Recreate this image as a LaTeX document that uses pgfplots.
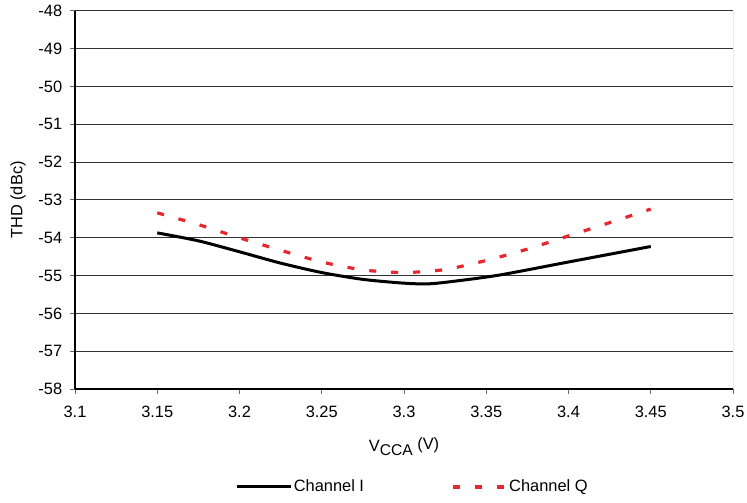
\documentclass[border=0pt]{standalone}
\usepackage{pgfplots}
\pgfplotsset{compat=1.18}
\usepackage{fontspec}
\setmainfont{Liberation Sans}
\definecolor{qred}{RGB}{232,38,46}
\begin{document}
\fontsize{8.2pt}{9.5pt}\selectfont
\begin{tikzpicture}
\useasboundingbox (-37.5pt,-56.5pt) rectangle (336pt,194.5pt);
\begin{axis}[
  scale only axis,
  width=329pt, height=189pt,
  xmin=3.1, xmax=3.5, ymin=-58, ymax=-48,
  xtick={3.1,3.15,3.2,3.25,3.3,3.35,3.4,3.45,3.5},
  xticklabels={3.1,3.15,3.2,3.25,3.3,3.35,3.4,3.45,3.5},
  ytick={-58,-57,-56,-55,-54,-53,-52,-51,-50,-49,-48},
  yticklabels={-58,-57,-56,-55,-54,-53,-52,-51,-50,-49,-48},
  axis x line*=bottom, axis y line*=left,
  axis line style={black, line width=0.8pt, -},
  tick align=outside, major tick length=2.5pt,
  tick style={black!60, line width=0.5pt},
  ymajorgrids, grid style={black!80, line width=0.5pt},
  ticklabel style={font=\fontsize{8.2pt}{9.5pt}\selectfont},
  yticklabel style={xshift=-1pt},
  xticklabel style={yshift=-3pt},
  ylabel={THD (dBc)},
  ylabel style={at={(axis description cs:-0.0866,0.5)}, anchor=center, font=\fontsize{8.2pt}{9.5pt}\selectfont},
  xlabel={V\raisebox{-2.2pt}{\fontsize{7.8pt}{9pt}\selectfont CCA} \raisebox{0.8pt}{(V)}},
  xlabel style={at={(axis description cs:0.5,-0.153)}, anchor=center, font=\fontsize{8.2pt}{9.5pt}\selectfont},
  legend columns=2,
  legend style={at={(axis description cs:0.5125,-0.259)}, anchor=center, draw=none, fill=none,
    font=\fontsize{8.2pt}{9.5pt}\selectfont, /tikz/every even column/.append style={column sep=43pt},
    inner sep=0pt, nodes={inner xsep=0.5pt}},
  legend image code/.code={\draw[#1] (-27pt,0pt) -- (0pt,0pt);},
]
\addplot[black, line width=1.5pt, smooth, tension=0.4] coordinates {
(3.15,-53.87) (3.175,-54.08) (3.2,-54.37) (3.225,-54.67) (3.25,-54.92)
(3.275,-55.1) (3.30,-55.2) (3.318,-55.21) (3.356,-55.0) (3.40,-54.64) (3.45,-54.23)};
\addlegendentry{Channel I}
\addplot[qred, line width=1.6pt, smooth, tension=0.4, dash pattern=on 3.5pt off 7.5pt] coordinates {
(3.15,-53.34) (3.175,-53.65) (3.2,-54.0) (3.225,-54.33) (3.25,-54.64) (3.275,-54.85)
(3.3,-54.92) (3.325,-54.84) (3.35,-54.6) (3.375,-54.3) (3.4,-53.95) (3.425,-53.6) (3.45,-53.24)};
\addlegendentry{Channel Q}
\draw[black!70, line width=0.5pt] (rel axis cs:1,0) -- (rel axis cs:1,1);
\end{axis}
\end{tikzpicture}
\end{document}
